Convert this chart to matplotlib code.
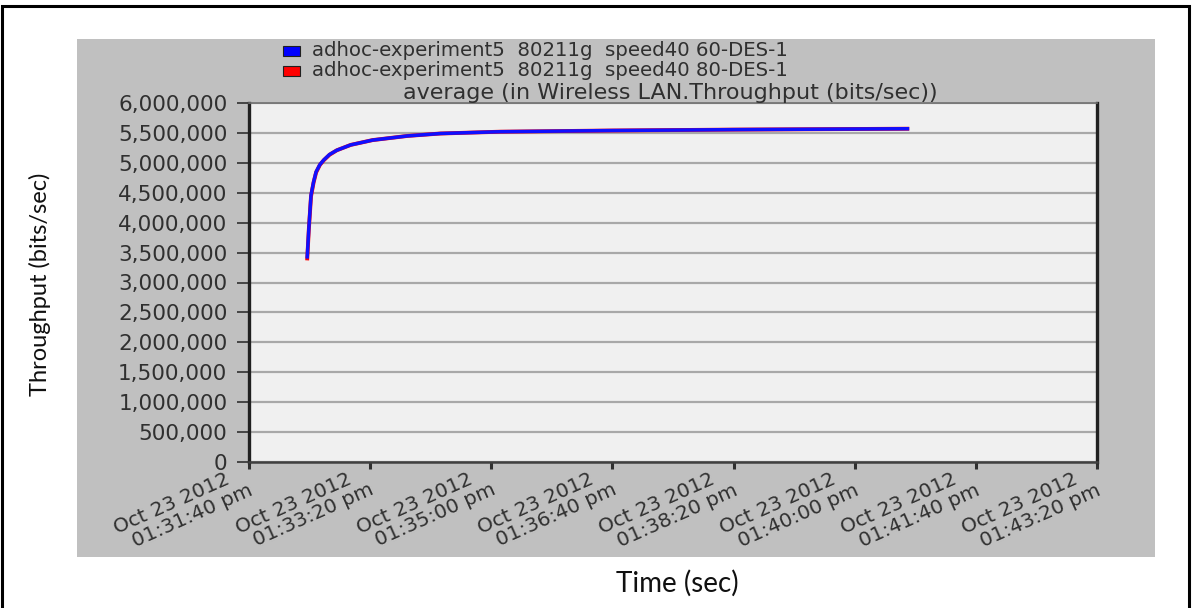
import matplotlib
matplotlib.use("Agg")
import matplotlib.pyplot as plt
from matplotlib.patches import Rectangle
from matplotlib.ticker import FuncFormatter

plt.rcParams['font.family'] = ['DejaVu Sans']

# Seconds elapsed since Oct 23 2012 01:31:40 pm
time_s = [48, 49.4, 51.2, 53.3, 55.4, 58.5, 61.8, 66.5, 72.5, 84, 102, 131, 158, 207, 300, 400, 545]
# average throughput (bits/sec)
des60 = [3.40e6, 3.91e6, 4.46e6, 4.68e6, 4.85e6, 4.97e6, 5.05e6, 5.14e6, 5.21e6, 5.30e6,
         5.38e6, 5.45e6, 5.49e6, 5.52e6, 5.54e6, 5.555e6, 5.57e6]
des80 = [3.37e6, 3.89e6, 4.44e6, 4.67e6, 4.84e6, 4.965e6, 5.045e6, 5.135e6, 5.21e6, 5.30e6,
         5.38e6, 5.45e6, 5.49e6, 5.52e6, 5.54e6, 5.555e6, 5.57e6]

series_names = ["adhoc-experiment5  80211g  speed40 60-DES-1",
                "adhoc-experiment5  80211g  speed40 80-DES-1"]
tick_seconds = [0, 100, 200, 300, 400, 500, 600, 700]
tick_dates = ["Oct 23 2012"] * 8
tick_times = ["01:31:40 pm", "01:33:20 pm", "01:35:00 pm", "01:36:40 pm",
              "01:38:20 pm", "01:40:00 pm", "01:41:40 pm", "01:43:20 pm"]
y_ticks = list(range(0, 6000001, 500000))

W, H = 1192, 608
fig = plt.figure(figsize=(W / 100, H / 100), dpi=100)
fig.patch.set_facecolor("white")

def fx(px):
    return px / W

def fy(py):
    return 1 - py / H

# outer frame (runs past the bottom edge)
fig.patches.append(Rectangle((fx(2), fy(640)), fx(1189) - fx(2), fy(6) - fy(640),
                             transform=fig.transFigure, fill=False, edgecolor="black",
                             linewidth=2.2, zorder=-3))
# grey chart panel
fig.patches.append(Rectangle((fx(77), fy(557)), fx(1155) - fx(77), fy(39) - fy(557),
                             transform=fig.transFigure, facecolor="#c0c0c0", edgecolor="none",
                             zorder=-2))

ax = fig.add_axes([fx(249), fy(462), fx(1097) - fx(249), fy(103) - fy(462)])
ax.set_zorder(1)
ax.set_facecolor("#f0f0f0")

ax.plot(time_s, des80, color="#ff0000", lw=2.8, solid_capstyle="butt", zorder=3)
ax.plot(time_s, des60, color="#1010ff", lw=2.5, solid_capstyle="butt", zorder=4)

ax.set_xlim(0, 700)
ax.set_ylim(0, 6000000)
ax.set_yticks(y_ticks)
ax.yaxis.set_major_formatter(FuncFormatter(lambda v, p: f"{int(v):,}"))
ax.set_xticks(tick_seconds)
ax.set_xticklabels([])
ax.tick_params(axis="y", labelsize=15.5, length=8.6, width=1.2, color="#303030",
               labelcolor="#303030", pad=7)
ax.tick_params(axis="x", length=5, width=2.2, color="#303030")
ax.grid(axis="y", color="#a8a8a8", lw=1.6)
ax.set_axisbelow(True)

# two-line date/time labels under each tick
for t, d, tm in zip(tick_seconds, tick_dates, tick_times):
    ax.annotate(d, xy=(t, 0), xycoords=("data", "axes fraction"),
                xytext=(-20, -16), textcoords="offset pixels", rotation=24,
                rotation_mode="anchor", ha="right", va="center", fontsize=14.5,
                color="#303030", annotation_clip=False)
    ax.annotate(tm, xy=(t, 0), xycoords=("data", "axes fraction"),
                xytext=(3, -27), textcoords="offset pixels", rotation=24,
                rotation_mode="anchor", ha="right", va="center", fontsize=14.5,
                color="#303030", annotation_clip=False)

for side in ("left", "right"):
    ax.spines[side].set_linewidth(2.4)
    ax.spines[side].set_color("#202020")
ax.spines["bottom"].set_linewidth(1.8)
ax.spines["bottom"].set_color("#404040")
ax.spines["top"].set_linewidth(1.2)
ax.spines["top"].set_color("#707070")

# legend above the plot area
for i, (name, col) in enumerate(zip(series_names, ["#0000ff", "#ff0000"])):
    yy = 51 + i * 20
    fig.patches.append(Rectangle((fx(283), fy(yy + 5)), fx(17), fy(0) - fy(10),
                                 transform=fig.transFigure, facecolor=col,
                                 edgecolor="#202020", linewidth=0.8, zorder=2))
    fig.text(fx(312), fy(yy), name, fontsize=14.2, va="center", ha="left", color="#303030")

fig.text(fx(670), fy(93), "average (in Wireless LAN.Throughput (bits/sec))",
         fontsize=16, ha="center", va="center", color="#303030")

fig.text(fx(40), fy(284), "Throughput (bits/sec)", rotation=90, fontsize=17,
         ha="center", va="center", color="#101010", family=["Lato", "DejaVu Sans"])
fig.text(fx(677), fy(583), "Time (sec)", fontsize=20, ha="center", va="center",
         color="#101010", family=["Lato", "DejaVu Sans"])

fig.savefig("out.png", dpi=100, facecolor="white")
